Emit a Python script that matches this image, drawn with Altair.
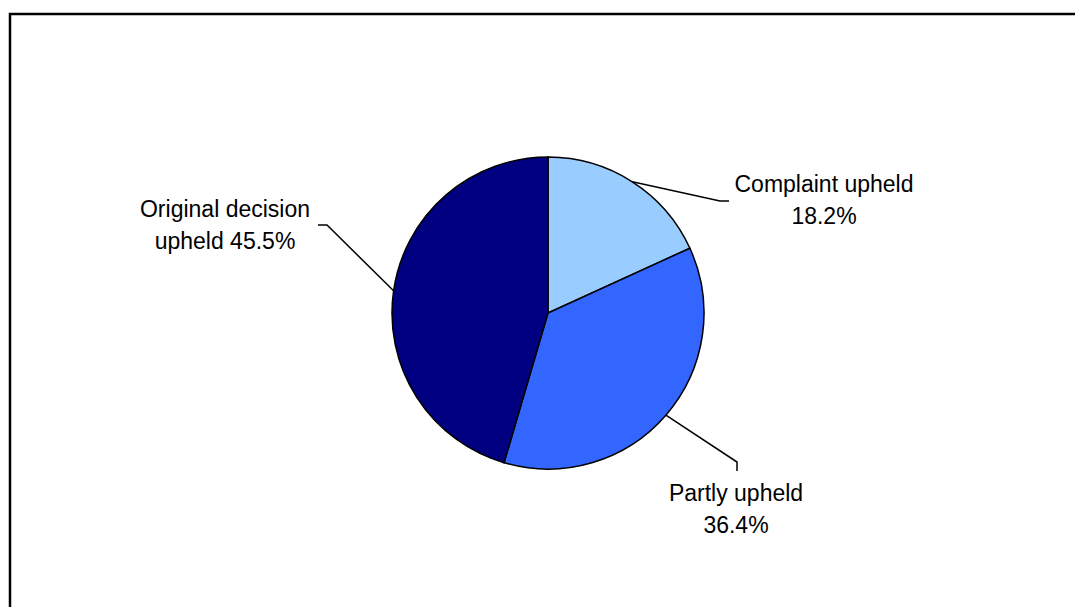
import math
import altair as alt
import pandas as pd

# ---- data ----
categories = ["Complaint upheld", "Partly upheld", "Original decision upheld"]
values = [18.2, 36.4, 45.5]
label_texts = ["Complaint upheld\n18.2%", "Partly upheld\n36.4%", "Original decision\nupheld 45.5%"]
colors = ["#99CCFF", "#3366FF", "#000080"]

# ---- layout (annotation placement, not data) ----
W, H = 1075, 607
CX, CY, R = 548, 313, 156
layout = {
    "Complaint upheld": dict(elbow=(720, 201), end=(729, 201), text=(824, 192)),
    "Partly upheld": dict(elbow=(737, 462), end=(737, 471), text=(736, 501)),
    "Original decision upheld": dict(elbow=(327, 225), end=(318, 225), text=(225, 217)),
}

pie_df = pd.DataFrame({"cat": categories, "value": values, "idx": list(range(len(categories)))})

# leader lines start at the slice mid-angle on the pie edge
total = sum(values)
rows, trows = [], []
cum = 0.0
for c, v, t in zip(categories, values, label_texts):
    mid = (cum + v / 2) / total * 2 * math.pi
    cum += v
    sx, sy = CX + R * math.sin(mid), CY - R * math.cos(mid)
    lay = layout[c]
    pts = [(sx, sy), lay["elbow"], lay["end"]]
    for i, (px, py) in enumerate(pts):
        rows.append({"cat": c, "i": i, "px": px, "py": py})
    trows.append({"cat": c, "label": t, "tx": lay["text"][0], "ty": lay["text"][1]})
line_df = pd.DataFrame(rows)
text_df = pd.DataFrame(trows)

frame = alt.Chart(alt.Data(values=[{}])).mark_rect(
    fillOpacity=0, stroke="black", strokeWidth=2.5
).encode(x=alt.value(10), x2=alt.value(W + 40), y=alt.value(14), y2=alt.value(H + 40))

pie = alt.Chart(pie_df).mark_arc(
    outerRadius=R, stroke="black", strokeWidth=1.5
).encode(
    theta=alt.Theta("value:Q", stack=True),
    order=alt.Order("idx:Q"),
    color=alt.Color("cat:N", scale=alt.Scale(domain=categories, range=colors), legend=None),
    x=alt.value(CX),
    y=alt.value(CY),
)

leaders = alt.Chart(line_df).mark_line(color="black", strokeWidth=1.5).encode(
    x=alt.X("px:Q", scale=None),
    y=alt.Y("py:Q", scale=None),
    detail="cat:N",
    order="i:Q",
)

labels = alt.Chart(text_df).mark_text(
    align="center", baseline="alphabetic", fontSize=23, font="Liberation Sans",
    lineBreak="\n", lineHeight=32, color="black"
).encode(
    x=alt.X("tx:Q", scale=None),
    y=alt.Y("ty:Q", scale=None),
    text="label:N",
)

chart = alt.layer(frame, pie, leaders, labels).properties(
    width=W, height=H, padding=0, autosize=alt.AutoSizeParams(type="none"),
    background="white"
).configure_view(stroke=None)

chart.save("out.html", embed_options={"renderer": "svg", "actions": False})
